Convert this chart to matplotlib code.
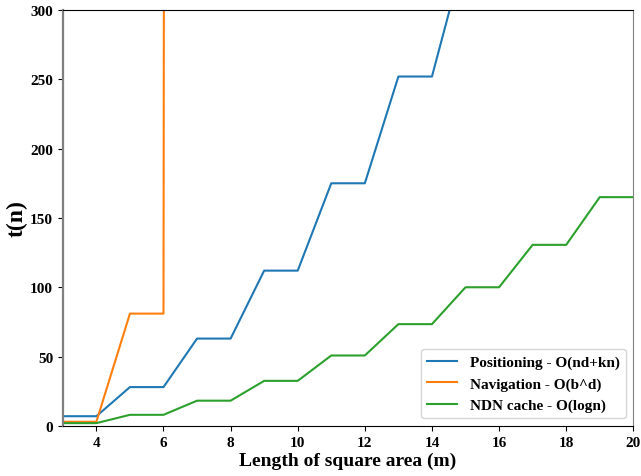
import matplotlib
matplotlib.use("Agg")
import matplotlib.pyplot as plt

plt.rcParams["font.family"] = ["Liberation Serif", "DejaVu Serif"]
plt.rcParams["font.weight"] = "bold"

# Side length of the square area (m)
sizes = [3, 4, 5, 6, 7, 8, 9, 10, 11, 12, 13, 14, 15, 16, 17, 18, 19, 20]

positioning = [7, 7, 28, 28, 63, 63, 112, 112, 175, 175, 252, 252,
               343, 343, 448, 448, 567, 567]
nav_sizes = [3, 4, 5, 6, 7, 8]
navigation = [3, 3, 81, 81, 19683, 19683]
ndn_cache = [2, 2, 8, 8, 18.2, 18.2, 32.5, 32.5, 50.8, 50.8, 73.4, 73.4,
             100, 100, 130.6, 130.6, 165, 165]

fig, ax = plt.subplots(figsize=(6.41, 4.77), dpi=100)

ax.plot(sizes, positioning, color="#1f77b4", label="Positioning - O(nd+kn)")
ax.plot(nav_sizes, navigation, color="#ff7f0e", label="Navigation - O(b^d)")
ax.plot(sizes, ndn_cache, color="#2ca02c", label="NDN cache - O(logn)")

ax.set_xlim(3, 20)
ax.set_ylim(0, 300)
ax.set_xticks([4, 6, 8, 10, 12, 14, 16, 18, 20])
ax.set_yticks([0, 50, 100, 150, 200, 250, 300])

ax.set_xlabel("Length of square area (m)", fontsize=14, fontweight="bold", labelpad=2)
ax.set_ylabel("t(n)", fontsize=17, fontweight="bold", labelpad=2)
ax.tick_params(labelsize=11)
for lbl in ax.get_xticklabels() + ax.get_yticklabels():
    lbl.set_fontweight("bold")

for side in ("left", "right"):
    ax.spines[side].set_color("#808080")
ax.spines["left"].set_linewidth(1.6)

ax.legend(loc="lower right", prop={"size": 11, "weight": "bold"})

fig.subplots_adjust(left=0.098, right=0.988, top=0.977, bottom=0.105)
fig.savefig("out.png", dpi=100)
